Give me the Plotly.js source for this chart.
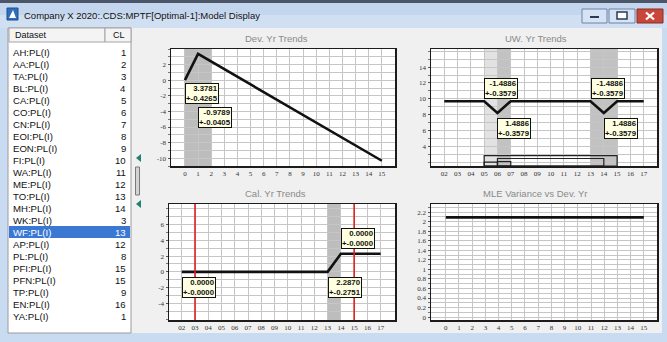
<!DOCTYPE html>
<html>
<head>
<meta charset="utf-8">
<script src="https://cdn.plot.ly/plotly-3.0.1.min.js"></script>
<style>
  html, body { margin: 0; padding: 0; background: #f0f0f0; overflow: hidden; }
  #chart { width: 667px; height: 342px; }
</style>
</head>
<body>
<div id="chart"></div>
<script>
// ---- Dataset list ----
const datasetNames = ['AH:PL(I)', 'AA:PL(I)', 'TA:PL(I)', 'BL:PL(I)', 'CA:PL(I)', 'CO:PL(I)', 'CN:PL(I)',
  'EOI:PL(I)', 'EON:PL(I)', 'FI:PL(I)', 'WA:PL(I)', 'ME:PL(I)', 'TO:PL(I)', 'MH:PL(I)', 'WK:PL(I)',
  'WF:PL(I)', 'AP:PL(I)', 'PL:PL(I)', 'PFI:PL(I)', 'PFN:PL(I)', 'TP:PL(I)', 'EN:PL(I)', 'YA:PL(I)'];
const clValues = [1, 2, 3, 4, 5, 6, 7, 8, 9, 10, 11, 12, 13, 14, 3, 13, 12, 8, 15, 15, 9, 16, 1];
const selectedDataset = 'WF:PL(I)';

// ---- Development-year trends (knots and fitted slopes between knots) ----
const devKnots = [0, 1, 15];
const devSlopes = [3.3781, -0.9789];
const devSE = [0.4265, 0.0405];
const devStartLevel = 0;
const devTicks = [0, 1, 2, 3, 4, 5, 6, 7, 8, 9, 10, 11, 12, 13, 14, 15];
const devShaded = [[0, 2]];

// ---- Underwriting-year trends ----
const uwKnots = [2, 5, 6, 7, 13, 14, 15, 17];
const uwSlopes = [0, -1.4886, 1.4886, 0, -1.4886, 1.4886, 0];
const uwSE = [0, 0.3579, 0.3579, 0, 0.3579, 0.3579, 0];
const uwStartLevel = 9.7;
const uwTickVals = [2, 3, 4, 5, 6, 7, 8, 9, 10, 11, 12, 13, 14, 15, 16, 17];
const uwTickText = ['02', '03', '04', '05', '06', '07', '08', '09', '10', '11', '12', '13', '14', '15', '16', '17'];
const uwShadedLight = [[5, 6]];
const uwShadedDark = [[6, 7], [13, 14], [14, 15]];
const uwPeriods = [[5, 15, 2.8], [6, 14, 2.45], [5, 6, 2.0], [6, 7, 2.05]];

// ---- Calendar-year trends ----
const calKnots = [2, 13, 14, 17];
const calSlopes = [0, 2.2870, 0];
const calSE = [0, 0.2751, 0];
const calStartLevel = 0;
const calShaded = [[13, 14]];
const calMarkedYears = [3, 15];

// ---- MLE variance by development year ----
const mleDevYears = [0, 1, 2, 3, 4, 5, 6, 7, 8, 9, 10, 11, 12, 13, 14, 15];
const mleVariance = [2.09, 2.09, 2.09, 2.09, 2.09, 2.09, 2.09, 2.09, 2.09, 2.09, 2.09, 2.09, 2.09, 2.09, 2.09, 2.09];
const mleTickVals = [0, 0.2, 0.4, 0.6, 0.8, 1, 1.2, 1.4, 1.6, 1.8, 2, 2.2];

// Piecewise-linear level from knots and slopes
function trendLine(knots, slopes, start) {
  const y = [start];
  for (let i = 0; i < slopes.length; i++) {
    y.push(y[i] + slopes[i] * (knots[i + 1] - knots[i]));
  }
  return y;
}
const devLevels = trendLine(devKnots, devSlopes, devStartLevel);
const uwLevels = trendLine(uwKnots, uwSlopes, uwStartLevel);
const calLevels = trendLine(calKnots, calSlopes, calStartLevel);

const W = 667, H = 342;
const px = x => x / W;
const py = y => 1 - y / H;

const lineStyle = { color: '#111111', width: 2.6 };
const traces = [
  { x: devKnots, y: devLevels, xaxis: 'x', yaxis: 'y', mode: 'lines', line: lineStyle, hoverinfo: 'skip' },
  { x: uwKnots, y: uwLevels, xaxis: 'x2', yaxis: 'y2', mode: 'lines', line: lineStyle, hoverinfo: 'skip' },
  { x: calKnots, y: calLevels, xaxis: 'x3', yaxis: 'y3', mode: 'lines', line: lineStyle, hoverinfo: 'skip' },
  { x: mleDevYears, y: mleVariance, xaxis: 'x4', yaxis: 'y4', mode: 'lines', line: lineStyle, hoverinfo: 'skip' }
];

const gridColor = '#c6c6c6';
const tickFont = { family: 'Liberation Serif, serif', size: 7, color: '#333333' };
function xAxis(domain, range, vals, text, anchor) {
  return {
    domain, range, anchor, tickmode: 'array', tickvals: vals, ticktext: text || vals.map(String),
    showline: true, mirror: true, linecolor: '#1c1c1c', linewidth: 1.5,
    showgrid: true, gridcolor: gridColor, gridwidth: 1, zeroline: false,
    ticks: '', tickfont: tickFont, fixedrange: true
  };
}
function yAxis(domain, range, vals, minorStep, anchor) {
  return {
    domain, range, anchor, tickmode: 'array', tickvals: vals, ticktext: vals.map(String),
    showline: true, mirror: true, linecolor: '#1c1c1c', linewidth: 1.5,
    showgrid: true, gridcolor: gridColor, gridwidth: 1, zeroline: false,
    ticks: 'outside', ticklen: 2, tickcolor: '#555', tickfont: tickFont, fixedrange: true,
    minor: { dtick: minorStep, showgrid: true, gridcolor: gridColor, gridwidth: 1, ticks: 'outside', ticklen: 2, tickcolor: '#777' }
  };
}

const topRow = [py(166), py(49)];
const botRow = [py(320), py(204)];
const leftCol = [px(171), px(395)];
const leftCol3 = [px(169), px(395)];
const rightCol = [px(431), px(657)];

const shapes = [];
const annotations = [];

// ---- window chrome ----
function rect(x0, y0, x1, y1, fill, line, lw) {
  shapes.push({ type: 'rect', xref: 'paper', yref: 'paper', x0: px(x0), x1: px(x1), y0: py(y1), y1: py(y0),
    fillcolor: fill, line: { color: line || fill, width: lw === undefined ? (line ? 1 : 0) : lw }, layer: 'below' });
}
function seg(x0, y0, x1, y1, color, width) {
  shapes.push({ type: 'line', xref: 'paper', yref: 'paper', x0: px(x0), x1: px(x1), y0: py(y0), y1: py(y1),
    line: { color, width } });
}
function label(x, y, text, font, xanchor) {
  annotations.push({ xref: 'paper', yref: 'paper', x: px(x), y: py(y), xanchor: xanchor || 'center',
    yanchor: 'middle', text, showarrow: false, font });
}
rect(0, 0, 667, 3, '#4a5668');
rect(0, 3, 667, 15, '#c3d6ee');
rect(0, 15, 667, 28, '#d0dff2');
rect(0, 28, 8, 342, '#c9dbf1');
rect(662, 28, 667, 342, '#c9dbf1');
rect(0, 333, 667, 342, '#c9dbf1');
// title icon
rect(7, 8, 18, 20, '#2f6fb8', '#1d4f8f');
shapes.push({ type: 'path', xref: 'paper', yref: 'paper', path:
  `M ${px(9)} ${py(18)} L ${px(13)} ${py(10)} L ${px(16)} ${py(18)} Z`, fillcolor: '#ffffff', line: { width: 0 } });
// caption buttons
rect(582, 9, 607, 23, '#d6e3f4', '#6d84a6');
rect(590, 16, 599, 18, '#2b3c57');
rect(609, 9, 635, 23, '#d6e3f4', '#6d84a6');
rect(617, 12, 627, 19, '#ffffff', '#2b3c57', 1.5);
rect(637, 9, 663, 23, '#c9473a', '#8c2c22');
seg(646, 12.5, 654, 19.5, '#ffffff', 2.2);
seg(646, 19.5, 654, 12.5, '#ffffff', 2.2);
label(22, 15, 'Company X 2020:.CDS:MPTF[Optimal-1]:Model Display',
  { family: 'Liberation Sans, sans-serif', size: 9.5, color: '#111111' }, 'left');

// ---- dataset list panel ----
rect(8, 28, 131, 333, '#ffffff', '#9a9a9a');
rect(9, 28, 105, 42, '#f4f4f4', '#a4a4a4');
rect(105, 28, 131, 42, '#f4f4f4', '#a4a4a4');
const headFont = { family: 'Liberation Sans, sans-serif', size: 9, color: '#111' };
label(13, 35.5, 'Dataset', headFont, 'left');
label(119, 35.5, 'CL', headFont);
const rowTop = 52, rowStep = 12;
datasetNames.forEach((name, i) => {
  const yc = rowTop + i * rowStep;
  const sel = name === selectedDataset;
  if (sel) rect(9, yc - 6, 130, yc + 6, '#3a78d4');
  const font = { family: 'Liberation Sans, sans-serif', size: 9.6, color: sel ? '#ffffff' : '#111111' };
  label(11, yc, name, font, 'left');
  label(128, yc, String(clValues[i]), font, 'right');
});
// scroll markers beside the list
rect(135.5, 167, 139.5, 195, '#d3d3d3', '#7a7a7a');
[158, 204].forEach(yc => shapes.push({ type: 'path', xref: 'paper', yref: 'paper',
  path: `M ${px(136)} ${py(yc)} L ${px(141)} ${py(yc - 4)} L ${px(141)} ${py(yc + 4)} Z`,
  fillcolor: '#22806f', line: { width: 0 } }));

// ---- subplot titles ----
const titleFont = { family: 'Liberation Sans, sans-serif', size: 9.5, color: '#8a8a8a' };
[['Dev. Yr Trends', 276, 38], ['UW. Yr Trends', 536, 38], ['Cal. Yr Trends', 275, 193], ['MLE Variance vs Dev. Yr', 535, 193]]
  .forEach(([t, x, y]) => label(x, y, t, titleFont));

// ---- shaded trend periods ----
function band(xr, spans, color) {
  spans.forEach(([a, b]) => shapes.push({ type: 'rect', xref: xr, yref: xr.replace('x', 'y') + ' domain',
    x0: a, x1: b, y0: 0, y1: 1, fillcolor: color, line: { width: 0 }, layer: 'below' }));
}
band('x', devShaded, '#bdbdbd');
band('x2', uwShadedLight, '#e2e2e2');
band('x2', uwShadedDark, '#c2c2c2');
band('x3', calShaded, '#bdbdbd');
calMarkedYears.forEach(yr => shapes.push({ type: 'line', xref: 'x3', yref: 'y3 domain', x0: yr, x1: yr, y0: 0, y1: 1,
  line: { color: '#e0201c', width: 1.6 } }));
uwPeriods.forEach(([a, b, top]) => shapes.push({ type: 'rect', xref: 'x2', yref: 'y2', x0: a, x1: b, y0: 1.5, y1: top,
  line: { color: '#222222', width: 1.2 }, fillcolor: 'rgba(0,0,0,0)' }));

// ---- slope labels ----
function slopeLabel(xr, x, y, slope, se) {
  annotations.push({ xref: xr, yref: xr.replace('x', 'y'), x, y, xanchor: 'left', yanchor: 'top', align: 'right',
    text: `<b>${slope.toFixed(4)}<br>+-${se.toFixed(4)}</b>`, showarrow: false,
    bgcolor: '#ffffe1', bordercolor: '#111111', borderwidth: 1, borderpad: 0,
    font: { family: 'Liberation Sans, sans-serif', size: 7.8, color: '#111111' } });
}
const devLabelY = [-0.38, -3.5];
devSlopes.forEach((s, i) => slopeLabel('x', devKnots[i], devLabelY[i], s, devSE[i]));
const uwLabelY = { 1: 12.66, 2: 7.6, 4: 12.66, 5: 7.6 };
uwSlopes.forEach((s, i) => { if (s !== 0) slopeLabel('x2', uwKnots[i], uwLabelY[i], s, uwSE[i]); });
const calLabelY = [-0.67, -0.67, 5.5];
calSlopes.forEach((s, i) => slopeLabel('x3', calKnots[i], calLabelY[i], s, calSE[i]));

const layout = {
  width: W, height: H, margin: { l: 0, r: 0, t: 0, b: 0 },
  paper_bgcolor: '#f0f0f0', plot_bgcolor: '#ffffff', showlegend: false,
  xaxis: xAxis(leftCol, [-1.06, 16], devTicks, null, 'y'),
  yaxis: yAxis(topRow, [-11, 4], [-10, -8, -6, -4, -2, 0, 2], 1, 'x'),
  xaxis2: xAxis(rightCol, [1, 18], uwTickVals, uwTickText, 'y2'),
  yaxis2: yAxis(topRow, [1.5, 16.3], [4, 6, 8, 10, 12, 14], 1, 'x2'),
  xaxis3: xAxis(leftCol3, [1.04, 18.08], uwTickVals, uwTickText, 'y3'),
  yaxis3: yAxis(botRow, [-6.1, 8.6], [-4, -2, 0, 2, 4, 6], 1, 'x3'),
  xaxis4: xAxis(rightCol, [-1.12, 16], devTicks, null, 'y4'),
  yaxis4: yAxis(botRow, [-0.06, 2.37], mleTickVals, 0.1, 'x4'),
  shapes, annotations
};

Plotly.newPlot('chart', traces, layout, { staticPlot: true, displayModeBar: false });
</script>
</body>
</html>
